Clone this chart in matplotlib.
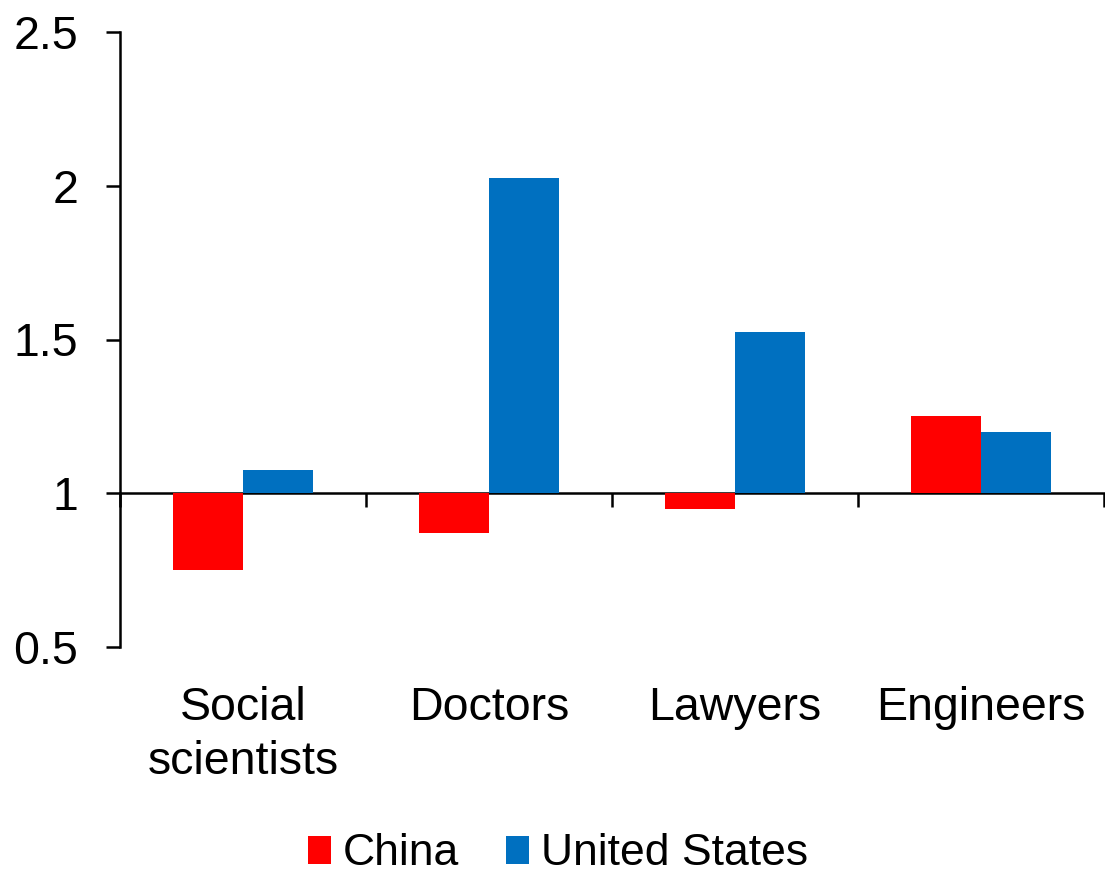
import matplotlib
matplotlib.use("Agg")
import matplotlib.pyplot as plt
import numpy as np

categories = ["Social\nscientists", "Doctors", "Lawyers", "Engineers"]
china = [0.75, 0.87, 0.95, 1.25]
us = [1.075, 2.025, 1.525, 1.20]
series_names = ["China", "United States"]
colors = ["#FF0000", "#0070C0"]
yticks = [0.5, 1, 1.5, 2, 2.5]
ytick_labels = ["0.5", "1", "1.5", "2", "2.5"]
baseline = 1.0

plt.rcParams['font.family'] = ['Liberation Sans', 'DejaVu Sans']
fs = 33.5
lfs = 32

fig = plt.figure(figsize=(11.05, 8.77), dpi=100)
ax = fig.add_axes([120/1105, 1-647/877, (1104-120)/1105, (647-32)/877])

x = np.arange(len(categories))
w = 0.285
ax.bar(x - w/2, np.array(china) - baseline, w, bottom=baseline, color=colors[0], label=series_names[0])
ax.bar(x + w/2, np.array(us) - baseline, w, bottom=baseline, color=colors[1], label=series_names[1])

ax.set_xlim(-0.5, len(categories) - 0.5)
ax.set_ylim(0.5, 2.5)
ax.set_yticks(yticks)
ax.set_yticklabels(ytick_labels, fontsize=fs)
ax.tick_params(axis='y', length=10, width=1.8, pad=20)

for s in ['top', 'right', 'bottom']:
    ax.spines[s].set_visible(False)
ax.spines['left'].set_linewidth(1.8)

ax.set_xticks(x)
ax.set_xticklabels(categories, fontsize=fs, linespacing=1.3)
ax.tick_params(axis='x', length=0, pad=28)

sec = ax.secondary_xaxis((baseline - 0.5) / 2.0)
sec.set_xticks(np.arange(len(categories) + 1) - 0.5)
sec.set_xticklabels([])
sec.tick_params(axis='x', length=10, width=1.8, direction='out')
sec.spines['bottom'].set_linewidth(1.8)

leg = fig.legend(loc='lower center', bbox_to_anchor=(0.505, 0.003), ncol=2, fontsize=lfs,
                 frameon=False, borderpad=0.0, borderaxespad=0.0,
                 handlelength=0.52, handleheight=0.58, handletextpad=0.27,
                 columnspacing=1.05)

fig.savefig("out.png", dpi=100)
